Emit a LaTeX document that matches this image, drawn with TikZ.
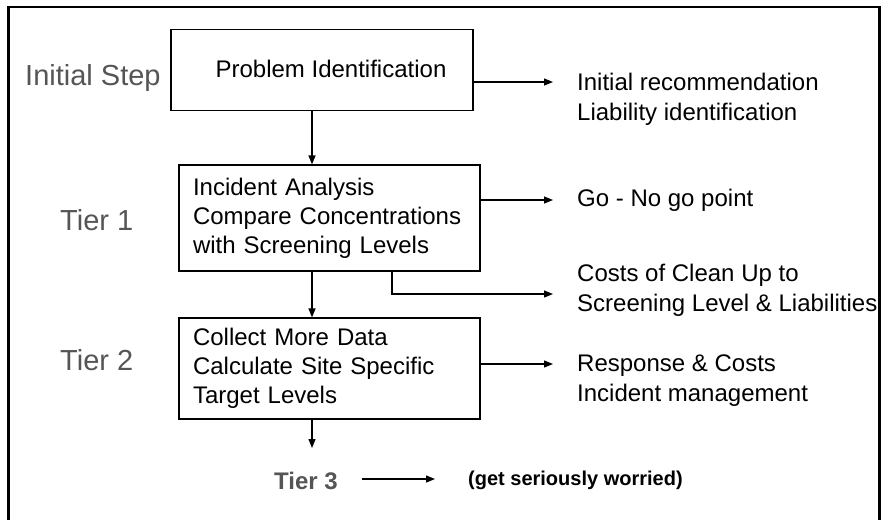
\documentclass[tikz,border=0pt]{standalone}
\usepackage{fontspec}
\setmainfont{Liberation Sans}
\usetikzlibrary{arrows.meta,calc}
\definecolor{tiergray}{HTML}{555555}
\tikzset{
  boxstyle/.style={draw=black, line width=1.2pt, inner sep=0pt},
  flowbox/.style={boxstyle, minimum width=301pt, text width=273pt, align=left, inner xsep=14pt,
    font=\fontsize{24}{29}\selectfont},
  bodytext/.style={inner sep=0pt, font=\fontsize{24}{30}\selectfont, align=left},
  tierlabel/.style={inner sep=0pt, text=tiergray, font=\fontsize{29}{34}\selectfont},
  arr/.style={line width=1.2pt, -{Triangle[length=9pt,width=7pt]}},
  frameline/.style={line width=2.7pt}
}
\begin{document}
\begin{tikzpicture}[x=1pt,y=-1pt]
\useasboundingbox (0,0) rectangle (885,520);
% frame (open at bottom)
\draw[frameline] (8.7,520) -- (8.7,7) -- (879.5,7) -- (879.5,520);

% boxes
\node[boxstyle, minimum width=302pt, minimum height=81pt] (box1) at (322,70) {};
\node[inner sep=0pt, font=\fontsize{24}{29}\selectfont] (p1) at (331,69) {Problem Identification};
\node[flowbox, minimum height=106pt] (box2) at (329.5,218)
  {Incident Analysis\\Compare Concentrations\\with Screening Levels};
\node[flowbox, minimum height=101pt] (box3) at (329.5,368.5)
  {Collect More Data\\Calculate Site Specific\\Target Levels};

% tier labels
\node[tierlabel, anchor=west] (l0) at (25,78) {Initial Step};
\node[tierlabel, anchor=west] (l1) at (60,220) {Tier 1};
\node[tierlabel, anchor=west] (l2) at (60,360) {Tier 2};
\node[inner sep=0pt, text=tiergray, font=\bfseries\fontsize{24}{28}\selectfont] (t3) at (306,481) {Tier 3};
\node[inner sep=0pt, anchor=west, font=\bfseries\fontsize{20}{24}\selectfont] (worry) at (468,480) {(get seriously worried)};

% right-hand texts
\node[bodytext, anchor=north west] (r1) at (577,73) {Initial recommendation\\Liability identification};
\node[bodytext, anchor=west] (r2) at (577,200) {Go - No go point};
\node[bodytext, anchor=north west] (r3) at (577,264) {Costs of Clean Up to\\Screening Level \& Liabilities};
\node[bodytext, anchor=north west] (r4) at (577,355) {Response \& Costs\\Incident management};

% connector end points
\coordinate (vx) at (312,0);
\coordinate (cx) at (392,0);
\coordinate (e1) at (553,82);
\coordinate (e2) at (553,200);
\coordinate (e3) at (553,294);
\coordinate (e4) at (553,364);
\coordinate (e5) at (435,479);
\coordinate (e6) at (312,448);

% connectors
\draw[arr] (box1.east |- e1) -- (e1);
\draw[arr] (box2.east |- e2) -- (e2);
\draw[arr] (box2.south -| cx) |- (e3);
\draw[arr] (box3.east |- e4) -- (e4);
\draw[arr] (box1.south -| vx) -- (box2.north -| vx);
\draw[arr] (box2.south -| vx) -- (box3.north -| vx);
\draw[arr] (box3.south -| vx) -- (e6);
\draw[arr] ($(t3.east |- e5)+(24,0)$) -- (e5);
\end{tikzpicture}
\end{document}
